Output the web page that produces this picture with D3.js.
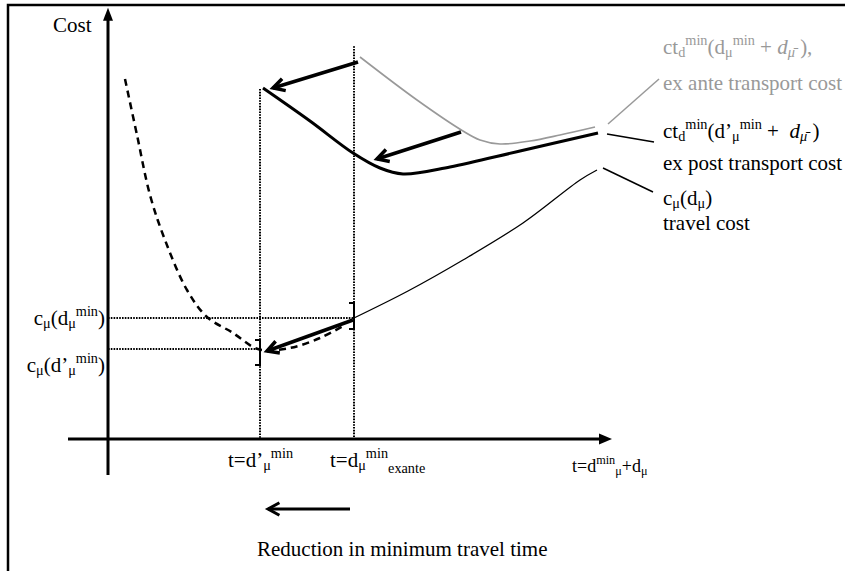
<!DOCTYPE html>
<html>
<head>
<meta charset="utf-8">
<script src="https://cdn.jsdelivr.net/npm/d3@7"></script>
<style>
  body { margin: 0; background: #fff; }
  text { white-space: pre; }
</style>
</head>
<body>
<svg id="chart" width="845" height="571"></svg>
<script>
// --- data (abstract units: time on x, cost on y) ---
var tMarks = [30.4, 49.2];          // t = d'min , t = dmin exante
var cMarks = [22.5, 30.25];         // c(d'min) , c(dmin)
var travelCost = [[49.2, 30.25], [60, 37], [71, 44.75], [83, 54], [94.4, 64.75], [97.8, 67.25]];
var travelCostLow = [[3.4, 90], [5.8, 76], [8.4, 61], [11.4, 49.75], [15.8, 37.25], [19.8, 30.5],
                     [25, 26.5], [29, 23], [30.8, 22.25], [36.4, 22.75], [42.4, 25.25], [47.4, 28.5]];
var exAnteCost = [[50.4, 95.5], [61.8, 84.75], [71, 77], [74.4, 74.75], [78.4, 73.75],
                  [84.4, 74.5], [90.4, 76], [97.4, 78]];
var exPostCost = [[31, 87.75], [40.4, 79.5], [49, 71.5], [54.4, 67.75], [59, 66.25],
                  [68.4, 68], [82.4, 72], [98, 76.5]];
// shift arrows: [from, to]
var shiftArrows = [
  [[50, 94.25], [33, 87.75]],
  [[70.6, 76.75], [53.8, 70]],
  [[49, 29.75], [31.8, 22]]
];
var reductionArrow = [[48.4, -17.5], [32, -17.5]];
// small bracket marks on the travel cost curves [t, cLow, cHigh]
var brackets = [[49.2, 27.5, 34], [30.4, 18.5, 24.75]];
// leader lines from curves to their labels
var leaders = [
  { pts: [[100, 78.75], [110.2, 90]], color: "#999" },
  { pts: [[99.8, 76.25], [109.2, 74.25]], color: "#000" },
  { pts: [[99, 67.75], [109, 61.75]], color: "#000" }
];

var FONT = "'Liberation Serif', Tinos, 'Times New Roman', Times, 'DejaVu Serif', serif";

var svg = d3.select("#chart");
var x = d3.scaleLinear().domain([0, 100]).range([108, 608]);
var y = d3.scaleLinear().domain([0, 100]).range([439, 39]);

var line = d3.line().x(function(d) { return x(d[0]); }).y(function(d) { return y(d[1]); });
var smooth = d3.line().x(function(d) { return x(d[0]); }).y(function(d) { return y(d[1]); })
  .curve(d3.curveCatmullRom.alpha(0.5));

// frame
svg.append("path").attr("d", "M8,571 L8,5 L845,5")
  .attr("fill", "none").attr("stroke", "#000").attr("stroke-width", 2.5);

// axes
svg.append("line").attr("x1", x(0)).attr("x2", x(0)).attr("y1", y(-9)).attr("y2", y(106))
  .attr("stroke", "#000").attr("stroke-width", 3);
svg.append("path")
  .attr("d", "M" + x(0) + "," + y(107.8) + " l-5,13 l10,0 Z").attr("fill", "#000");
svg.append("line").attr("x1", x(-8)).attr("x2", x(98.5)).attr("y1", y(0)).attr("y2", y(0))
  .attr("stroke", "#000").attr("stroke-width", 3);
svg.append("path")
  .attr("d", "M" + x(100.8) + "," + y(0) + " l-13,-5.5 l0,11 Z").attr("fill", "#000");

// dotted guides
var dotted = svg.append("g").attr("stroke", "#000").attr("stroke-width", 2)
  .attr("stroke-dasharray", "1.6,1.2").attr("fill", "none");
dotted.append("line").attr("x1", x(tMarks[0])).attr("x2", x(tMarks[0])).attr("y1", y(87.5)).attr("y2", y(0));
dotted.append("line").attr("x1", x(tMarks[1])).attr("x2", x(tMarks[1])).attr("y1", y(98.2)).attr("y2", y(0));
dotted.append("line").attr("x1", x(0)).attr("x2", x(tMarks[1])).attr("y1", y(cMarks[1])).attr("y2", y(cMarks[1]));
dotted.append("line").attr("x1", x(0)).attr("x2", x(tMarks[0])).attr("y1", y(cMarks[0])).attr("y2", y(cMarks[0]));

// curves
svg.append("path").attr("d", smooth(exAnteCost)).attr("fill", "none")
  .attr("stroke", "#999").attr("stroke-width", 1.6);
svg.append("path").attr("d", smooth(exPostCost)).attr("fill", "none")
  .attr("stroke", "#000").attr("stroke-width", 3);
svg.append("path").attr("d", smooth(travelCost)).attr("fill", "none")
  .attr("stroke", "#000").attr("stroke-width", 1.3);
svg.append("path").attr("d", smooth(travelCostLow)).attr("fill", "none")
  .attr("stroke", "#000").attr("stroke-width", 2.5).attr("stroke-dasharray", "7,5");

// brackets
brackets.forEach(function(b) {
  var bx = x(b[0]);
  svg.append("path")
    .attr("d", "M" + (bx - 5) + "," + y(b[2]) + " L" + bx + "," + y(b[2]) +
               " L" + bx + "," + y(b[1]) + " L" + (bx - 5) + "," + y(b[1]))
    .attr("fill", "none").attr("stroke", "#000").attr("stroke-width", 2);
});

// open arrows
function arrow(a, w) {
  var x0 = x(a[0][0]), y0 = y(a[0][1]), x1 = x(a[1][0]), y1 = y(a[1][1]);
  var ang = Math.atan2(y0 - y1, x0 - x1), L = 13, s = 0.5;
  svg.append("line").attr("x1", x0).attr("y1", y0).attr("x2", x1).attr("y2", y1)
    .attr("stroke", "#000").attr("stroke-width", w);
  svg.append("path")
    .attr("d", "M" + (x1 + L * Math.cos(ang + s)) + "," + (y1 + L * Math.sin(ang + s)) +
               " L" + x1 + "," + y1 +
               " L" + (x1 + L * Math.cos(ang - s)) + "," + (y1 + L * Math.sin(ang - s)))
    .attr("fill", "none").attr("stroke", "#000").attr("stroke-width", w)
    .attr("stroke-linejoin", "miter");
}
shiftArrows.forEach(function(a) { arrow(a, 3.5); });
arrow(reductionArrow, 3);

// leaders
leaders.forEach(function(l) {
  svg.append("path").attr("d", line(l.pts)).attr("stroke", l.color)
    .attr("stroke-width", 1.5).attr("fill", "none");
});

// rich labels with sub/superscripts
function rich(px, py, parts, fs, color, anchor) {
  var t = svg.append("text").attr("x", px).attr("y", py).attr("font-size", fs)
    .attr("font-family", FONT)
    .attr("fill", color || "#000").attr("text-anchor", anchor || "start");
  var off = 0;
  parts.forEach(function(p) {
    var kind = p[1] || "n", target = 0, size = fs, italic = false;
    if (kind === "sub" || kind === "isub") { target = fs * 0.16; size = fs * 0.68; }
    if (kind === "sub2") { target = fs * 0.28; size = fs * 0.68; }
    if (kind === "sup") { target = -fs * 0.44; size = fs * 0.68; }
    if (kind === "i" || kind === "isub") italic = true;
    t.append("tspan").attr("dy", target - off).attr("font-size", size)
      .attr("font-style", italic ? "italic" : null).text(p[0]);
    off = target;
  });
  return t;
}

var fs = 21;
rich(53, 32, [["Cost"]], fs);
rich(663, 54, [["ct"], ["d", "sub"], ["min", "sup"], ["(d"], ["\u03bc", "sub"], ["min", "sup"],
               [" + "], ["d", "i"], ["\u03bc\u0304", "isub"], [" ),"]], fs, "#999");
rich(663, 90, [["ex ante transport cost"]], fs, "#999");
rich(663, 138, [["ct"], ["d", "sub"], ["min", "sup"], ["(d\u2019"], ["\u03bc", "sub"], ["min", "sup"],
                [" +  "], ["d", "i"], ["\u03bc\u0304", "isub"], [" )"]], fs);
rich(663, 170, [["ex post transport cost"]], fs);
rich(663, 205, [["c"], ["\u03bc", "sub"], ["(d"], ["\u03bc", "sub"], [")"]], fs);
rich(663, 230, [["travel cost"]], fs);

rich(105, 325, [["c"], ["\u03bc", "sub"], ["(d"], ["\u03bc", "sub"], ["min", "sup"], [")"]], fs, "#000", "end");
rich(105, 372, [["c"], ["\u03bc", "sub"], ["(d\u2019"], ["\u03bc", "sub"], ["min", "sup"], [")"]], fs, "#000", "end");

rich(228, 467, [["t=d\u2019"], ["\u03bc", "sub"], ["min", "sup"]], fs);
rich(330, 467, [["t=d"], ["\u03bc", "sub"], ["min", "sup"], ["exante", "sub2"]], fs);
rich(572, 472, [["t=d"], ["min", "sup"], ["\u03bc", "sub"], ["+d"], ["\u03bc", "sub"]], 18);

rich(257, 556, [["Reduction in minimum travel time"]], fs);
</script>
</body>
</html>
